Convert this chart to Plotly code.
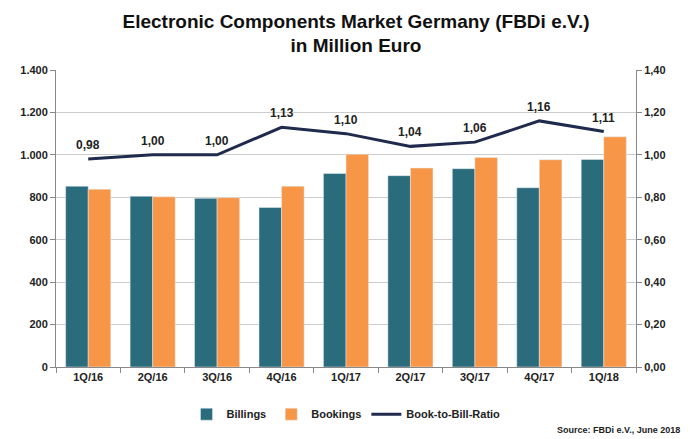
import plotly.graph_objects as go

quarters = ["1Q/16", "2Q/16", "3Q/16", "4Q/16", "1Q/17", "2Q/17", "3Q/17", "4Q/17", "1Q/18"]
billings = [852, 805, 795, 752, 912, 902, 935, 845, 978]
bookings = [838, 802, 798, 852, 1003, 938, 988, 977, 1085]
ratio = [0.98, 1.00, 1.00, 1.13, 1.10, 1.04, 1.06, 1.16, 1.11]
left_ticks = ["0", "200", "400", "600", "800", "1.000", "1.200", "1.400"]
right_ticks = ["0,00", "0,20", "0,40", "0,60", "0,80", "1,00", "1,20", "1,40"]

font = "Liberation Sans"

fig = go.Figure()
fig.add_trace(go.Bar(x=quarters, y=billings, name="Billings", marker=dict(color="#2a6b7c")))
fig.add_trace(go.Bar(x=quarters, y=bookings, name="Bookings", marker=dict(color="#f79646")))
fig.add_trace(go.Scatter(
    x=quarters, y=ratio, name="Book-to-Bill-Ratio", yaxis="y2",
    mode="lines", line=dict(color="#1f2a4d", width=3),
))

# ratio labels above the line
for q, r in zip(quarters, ratio):
    fig.add_annotation(x=q, y=r, xref="x", yref="y2", text=f"<b>{r:.2f}</b>".replace(".", ","),
                       showarrow=False, yshift=14, font=dict(size=12, color="#222", family=font))

fig.add_annotation(text="<b>Source: FBDi e.V., June 2018</b>", xref="paper", yref="paper",
                   x=1.08, y=-0.19, xanchor="right", yanchor="top", showarrow=False,
                   font=dict(size=9))

fig.update_layout(
    width=696, height=439,
    paper_bgcolor="white", plot_bgcolor="white",
    font=dict(family=font, size=11, color="#222"),
    title=dict(text="<b>Electronic Components Market Germany (FBDi e.V.)<br>in Million Euro</b>",
               x=0.5, xanchor="center", y=0.955, yanchor="top", font=dict(size=19, color="#111")),
    margin=dict(l=48, r=68, t=62, b=80, autoexpand=False),
    bargap=0.3, bargroupgap=0,
    xaxis=dict(showline=True, linecolor="#888", ticks="outside", tickcolor="#888",
               tickson="boundaries", ticklen=5,
               tickfont=dict(size=11, weight="bold")),
    yaxis=dict(range=[0, 1400], tickvals=[0, 200, 400, 600, 800, 1000, 1200, 1400], ticktext=left_ticks,
               showgrid=True, gridcolor="#ccc",
               showline=True, linecolor="#888", ticks="outside", tickcolor="#888",
               tickfont=dict(size=11, weight="bold"), zeroline=False),
    yaxis2=dict(range=[0, 1.4], tickvals=[0, 0.2, 0.4, 0.6, 0.8, 1.0, 1.2, 1.4], ticktext=right_ticks,
                overlaying="y", side="right",
                showgrid=False, showline=True, linecolor="#888", ticks="outside", tickcolor="#888",
                tickfont=dict(size=11, weight="bold")),
    legend=dict(orientation="h", x=0.5, xanchor="center", y=-0.11, yanchor="top",
                font=dict(size=11, weight="bold"), traceorder="normal"),
)

fig.write_html("out.html")
